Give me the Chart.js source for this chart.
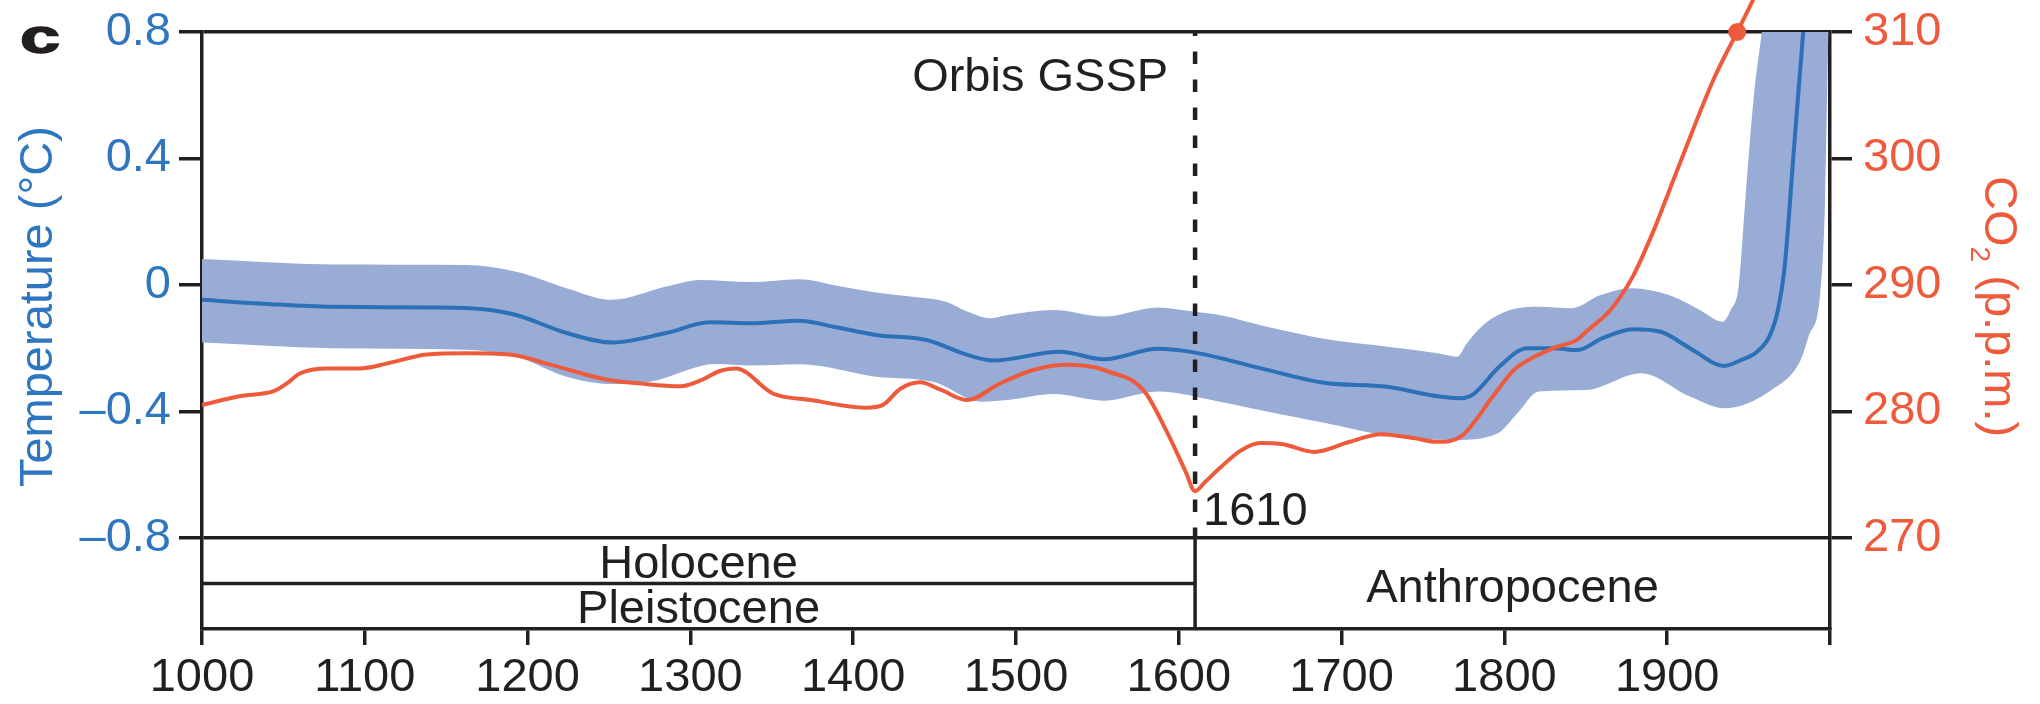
<!DOCTYPE html>
<html>
<head>
<meta charset="utf-8">
<script src="https://cdn.jsdelivr.net/npm/chart.js@4.4.1/dist/chart.umd.min.js"></script>
<style>
  html, body { margin: 0; padding: 0; background: #ffffff; }
  canvas { display: block; }
</style>
</head>
<body>
<canvas id="chart" width="2040" height="704"></canvas>
<script>
// ---- Data -------------------------------------------------------------
// Reconstructed Northern Hemisphere temperature anomaly (°C): mean and uncertainty band
const tempYears = [1000, 1040, 1080, 1142, 1173, 1193, 1224, 1252, 1285, 1312, 1337, 1367, 1388, 1414,
  1445, 1470, 1486, 1527, 1554, 1587, 1610, 1650, 1689, 1728, 1760, 1773, 1781, 1797, 1814, 1830,
  1845, 1860, 1879, 1896, 1914, 1935, 1945, 1955, 1963, 1968, 1972, 1978, 1984, 1990, 2000];
const tempMean = [-0.047, -0.060, -0.069, -0.071, -0.077, -0.095, -0.152, -0.182, -0.152, -0.118, -0.121,
  -0.113, -0.132, -0.158, -0.174, -0.221, -0.239, -0.211, -0.235, -0.202, -0.214, -0.263, -0.309,
  -0.322, -0.353, -0.358, -0.345, -0.258, -0.200, -0.200, -0.206, -0.169, -0.140, -0.148, -0.200,
  -0.256, -0.238, -0.212, -0.160, -0.080, 0.050, 0.440, 0.830, 1.200, 1.800];

const upperYears = [1000, 1080, 1162, 1193, 1224, 1252, 1285, 1306, 1337, 1367, 1388, 1414, 1439, 1457,
  1470, 1484, 1495, 1523, 1554, 1587, 1610, 1625, 1654, 1696, 1728, 1759, 1771, 1777, 1787, 1797,
  1808, 1821, 1841, 1859, 1878, 1901, 1920, 1934, 1939, 1944, 1948, 1953, 1958, 1965, 2000];
const tempUpper = [0.082, 0.065, 0.063, 0.042, -0.010, -0.047, -0.005, 0.016, 0.009, 0.018, 0.000,
  -0.024, -0.039, -0.053, -0.084, -0.105, -0.095, -0.079, -0.100, -0.071, -0.085, -0.095, -0.132,
  -0.176, -0.195, -0.216, -0.227, -0.184, -0.127, -0.093, -0.074, -0.069, -0.074, -0.032, -0.010,
  -0.032, -0.079, -0.116, -0.079, 0.000, 0.269, 0.585, 0.796, 1.100, 2.000];

const lowerYears = [1000, 1080, 1162, 1193, 1224, 1252, 1275, 1316, 1337, 1367, 1414, 1449, 1479, 1495,
  1523, 1554, 1587, 1625, 1654, 1696, 1732, 1770, 1796, 1808, 1821, 1850, 1884, 1914, 1935, 1964,
  1982, 1987, 1994, 1997, 1999, 2000];
const tempLower = [-0.182, -0.200, -0.205, -0.227, -0.290, -0.313, -0.306, -0.250, -0.255, -0.251,
  -0.290, -0.306, -0.369, -0.364, -0.345, -0.366, -0.337, -0.369, -0.400, -0.443, -0.480, -0.490,
  -0.469, -0.406, -0.337, -0.332, -0.279, -0.353, -0.390, -0.332, -0.237, -0.160, -0.026, 0.270,
  0.800, 1.000];

// Atmospheric CO2 (p.p.m.)
const co2Years = [1000, 1023, 1044, 1052, 1060, 1077, 1097, 1114, 1138, 1162, 1189, 1214, 1249, 1270,
  1294, 1307, 1318, 1328, 1351, 1374, 1408, 1418, 1429, 1441, 1454, 1470, 1490, 1511, 1531, 1548,
  1558, 1572, 1580, 1593, 1604, 1610, 1616, 1625, 1638, 1650, 1664, 1683, 1705, 1724, 1744, 1759,
  1773, 1793, 1806, 1818, 1830, 1845, 1851, 1865, 1879, 1891, 1899, 1915, 1929, 1943, 1953, 1960];
const co2Ppm = [280.5, 281.2, 281.6, 282.2, 283.0, 283.4, 283.4, 283.8, 284.5, 284.6, 284.5, 283.7,
  282.5, 282.2, 282.0, 282.5, 283.2, 283.4, 281.4, 280.9, 280.3, 280.5, 281.8, 282.3, 281.7, 280.9,
  282.2, 283.3, 283.7, 283.5, 283.1, 282.4, 281.4, 278.3, 275.3, 273.7, 274.4, 275.5, 276.9, 277.5,
  277.4, 276.8, 277.6, 278.2, 277.9, 277.6, 278.0, 281.2, 283.3, 284.3, 285.0, 285.7, 286.4, 288.0,
  290.7, 294.1, 296.7, 302.0, 306.4, 310.0, 312.6, 314.5];

// Highlighted CO2 point
const markerYears = [1943];
const markerCo2 = [310];

// Proposed boundary and epoch names
const gsspYear = 1610;
const gsspName = 'Orbis GSSP';
const olderEpochs = ['Holocene', 'Pleistocene'];
const newerEpoch = 'Anthropocene';

// Axis ticks
const yearTicks = [1000, 1100, 1200, 1300, 1400, 1500, 1600, 1700, 1800, 1900];
const yearMin = 1000, yearMax = 2000;
const tempTicks = [-0.8, -0.4, 0, 0.4, 0.8];
const co2Ticks = [270, 280, 290, 300, 310];

// ---- Styling ------------------------------------------------------------
const INK = '#231f20';
const BLUE_TEXT = '#2f76c0';
const BLUE_LINE = '#2c70b8';
const BAND = '#98acd6';
const ORANGE = '#ee5a3c';
const FAMILY = '"Liberation Sans", Arial, Helvetica, sans-serif';
const FS = 47;
const AXIS_W = 3.5;
const STRIP = 0.18;   // depth of the epoch strip below the data panel, as a share of the axis span

const tSpan = tempTicks[tempTicks.length - 1] - tempTicks[0];
const cSpan = co2Ticks[co2Ticks.length - 1] - co2Ticks[0];

function pts(xs, ys) { return xs.map((x, i) => ({ x: x, y: ys[i] })); }
function fmtTemp(v) { return v < 0 ? '\u2013' + Math.abs(v) : String(v); }

Chart.defaults.font.family = FAMILY;

// Boundary marker, epoch strip, annotations and axis titles
const overlay = {
  id: 'overlay',
  afterDatasetsDraw(chart) {
    const { ctx, chartArea: a, scales } = chart;
    const x = scales.x, y = scales.y;
    const gx = x.getPixelForValue(gsspYear);
    const yTop = y.getPixelForValue(tempTicks[tempTicks.length - 1]);
    const yBase = y.getPixelForValue(tempTicks[0]);
    const yMid = (yBase + a.bottom) / 2;
    const cap = FS * 0.716;

    ctx.save();
    ctx.strokeStyle = INK;

    // dashed boundary line through the data panel
    ctx.lineWidth = 4.5;
    ctx.setLineDash([12.5, 15.5]);
    ctx.lineDashOffset = 8.6;
    ctx.beginPath();
    ctx.moveTo(gx, yTop);
    ctx.lineTo(gx, yBase);
    ctx.stroke();

    // solid boundary inside the epoch strip
    ctx.setLineDash([]);
    ctx.lineWidth = AXIS_W;
    ctx.beginPath();
    ctx.moveTo(gx, yBase);
    ctx.lineTo(gx, a.bottom);
    ctx.stroke();

    // Holocene / Pleistocene divider
    ctx.beginPath();
    ctx.moveTo(a.left, yMid);
    ctx.lineTo(gx, yMid);
    ctx.stroke();

    // epoch names
    ctx.fillStyle = INK;
    ctx.font = FS + 'px ' + FAMILY;
    ctx.textBaseline = 'alphabetic';
    ctx.textAlign = 'center';
    const leftMid = (a.left + gx) / 2;
    ctx.fillText(olderEpochs[0], leftMid, (yBase + yMid) / 2 + cap / 2);
    ctx.fillText(olderEpochs[1], leftMid, (yMid + a.bottom) / 2 + cap / 2);
    ctx.fillText(newerEpoch, (gx + a.right) / 2, (yBase + a.bottom) / 2 + cap / 2 + 2);

    // boundary labels
    ctx.textAlign = 'right';
    ctx.fillText(gsspName, gx - 27, yTop + 59);
    ctx.textAlign = 'left';
    ctx.fillText(String(gsspYear), gx + 8, yBase - 13);

    // panel letter
    ctx.save();
    ctx.translate(20, 53);
    ctx.scale(1.5, 1);
    ctx.font = 'bold 48px ' + FAMILY;
    ctx.lineWidth = 1.5;
    ctx.strokeStyle = INK;
    ctx.fillText('c', 0, 0);
    ctx.strokeText('c', 0, 0);
    ctx.restore();

    const titleY = a.top + (a.bottom - a.top) * 0.46;

    // left axis title
    ctx.save();
    ctx.fillStyle = BLUE_TEXT;
    ctx.font = FS + 'px ' + FAMILY;
    ctx.translate(52, titleY);
    ctx.rotate(-Math.PI / 2);
    ctx.textAlign = 'center';
    ctx.fillText('Temperature (\u00B0C)', 0, 0);
    ctx.restore();

    // right axis title with subscript
    ctx.save();
    ctx.fillStyle = ORANGE;
    const mainFont = FS + 'px ' + FAMILY;
    const subFont = '28px ' + FAMILY;
    ctx.font = mainFont;
    const w1 = ctx.measureText('CO').width;
    const w3 = ctx.measureText(' (p.p.m.)').width;
    ctx.font = subFont;
    const w2 = ctx.measureText('2').width;
    const total = w1 + w2 + w3;
    ctx.translate(1985, titleY - total / 2);
    ctx.rotate(Math.PI / 2);
    ctx.textAlign = 'left';
    ctx.font = mainFont;
    ctx.fillText('CO', 0, 0);
    ctx.font = subFont;
    ctx.fillText('2', w1, 14);
    ctx.font = mainFont;
    ctx.fillText(' (p.p.m.)', w1 + w2, 0);
    ctx.restore();

    ctx.restore();
  }
};

new Chart(document.getElementById('chart'), {
  type: 'line',
  data: {
    datasets: [
      {
        label: 'CO2 point',
        data: pts(markerYears, markerCo2),
        yAxisID: 'y2',
        showLine: false,
        pointRadius: 9,
        pointBackgroundColor: ORANGE,
        pointBorderWidth: 0,
        clip: false
      },
      {
        label: 'CO2',
        data: pts(co2Years, co2Ppm),
        yAxisID: 'y2',
        borderColor: ORANGE,
        borderWidth: 4,
        pointRadius: 0,
        cubicInterpolationMode: 'monotone',
        fill: false,
        clip: false
      },
      {
        label: 'Temperature',
        data: pts(tempYears, tempMean),
        yAxisID: 'y',
        borderColor: BLUE_LINE,
        borderWidth: 4,
        pointRadius: 0,
        cubicInterpolationMode: 'monotone',
        fill: false
      },
      {
        label: 'Temperature upper',
        data: pts(upperYears, tempUpper),
        yAxisID: 'y',
        borderColor: 'rgba(0,0,0,0)',
        borderWidth: 0,
        backgroundColor: BAND,
        pointRadius: 0,
        cubicInterpolationMode: 'monotone',
        fill: '+1'
      },
      {
        label: 'Temperature lower',
        data: pts(lowerYears, tempLower),
        yAxisID: 'y',
        borderColor: 'rgba(0,0,0,0)',
        borderWidth: 0,
        pointRadius: 0,
        cubicInterpolationMode: 'monotone',
        fill: false
      }
    ]
  },
  options: {
    responsive: false,
    animation: false,
    devicePixelRatio: 1,
    events: [],
    layout: { padding: { top: 32, left: 0, right: 0, bottom: 0 } },
    elements: { line: { capBezierPoints: false } },
    plugins: {
      legend: { display: false },
      tooltip: { enabled: false },
      title: { display: false }
    },
    scales: {
      x: {
        type: 'linear',
        position: 'bottom',
        min: yearMin,
        max: yearMax,
        afterBuildTicks: s => { s.ticks = yearTicks.concat([yearMax]).map(v => ({ value: v })); },
        afterFit: s => { s.height = 75; },
        ticks: {
          autoSkip: false,
          maxRotation: 0,
          color: INK,
          padding: 10,
          font: { size: FS, lineHeight: 1 },
          callback: v => (yearTicks.indexOf(v) >= 0 ? String(v) : '')
        },
        grid: {
          drawOnChartArea: false,
          drawTicks: true,
          tickLength: 16,
          tickColor: INK,
          tickWidth: AXIS_W,
          lineWidth: AXIS_W,
          color: INK
        },
        border: { display: true, color: INK, width: AXIS_W }
      },
      y: {
        type: 'linear',
        position: 'left',
        min: tempTicks[0] - tSpan * STRIP,
        max: tempTicks[tempTicks.length - 1],
        afterBuildTicks: s => { s.ticks = tempTicks.map(v => ({ value: v })); },
        afterFit: s => { s.width = 202; s.paddingTop = 0; s.paddingBottom = 0; },
        ticks: {
          color: BLUE_TEXT,
          padding: 8,
          font: { size: FS, lineHeight: 1 },
          callback: v => fmtTemp(v)
        },
        grid: {
          drawOnChartArea: true,
          drawTicks: true,
          tickLength: 23,
          lineWidth: AXIS_W,
          tickWidth: AXIS_W,
          tickColor: INK,
          color: c => (c.tick && (c.tick.value === tempTicks[0] || c.tick.value === tempTicks[tempTicks.length - 1])) ? INK : 'rgba(0,0,0,0)'
        },
        border: { display: true, color: INK, width: AXIS_W }
      },
      y2: {
        type: 'linear',
        position: 'right',
        min: co2Ticks[0] - cSpan * STRIP,
        max: co2Ticks[co2Ticks.length - 1],
        afterBuildTicks: s => { s.ticks = co2Ticks.map(v => ({ value: v })); },
        afterFit: s => { s.width = 210; s.paddingTop = 0; s.paddingBottom = 0; },
        ticks: {
          color: ORANGE,
          padding: 11,
          font: { size: FS, lineHeight: 1 },
          callback: v => String(v)
        },
        grid: {
          drawOnChartArea: false,
          drawTicks: true,
          tickLength: 22,
          lineWidth: AXIS_W,
          tickWidth: AXIS_W,
          tickColor: INK,
          color: INK
        },
        border: { display: true, color: INK, width: AXIS_W }
      }
    }
  },
  plugins: [overlay]
});
</script>
</body>
</html>
